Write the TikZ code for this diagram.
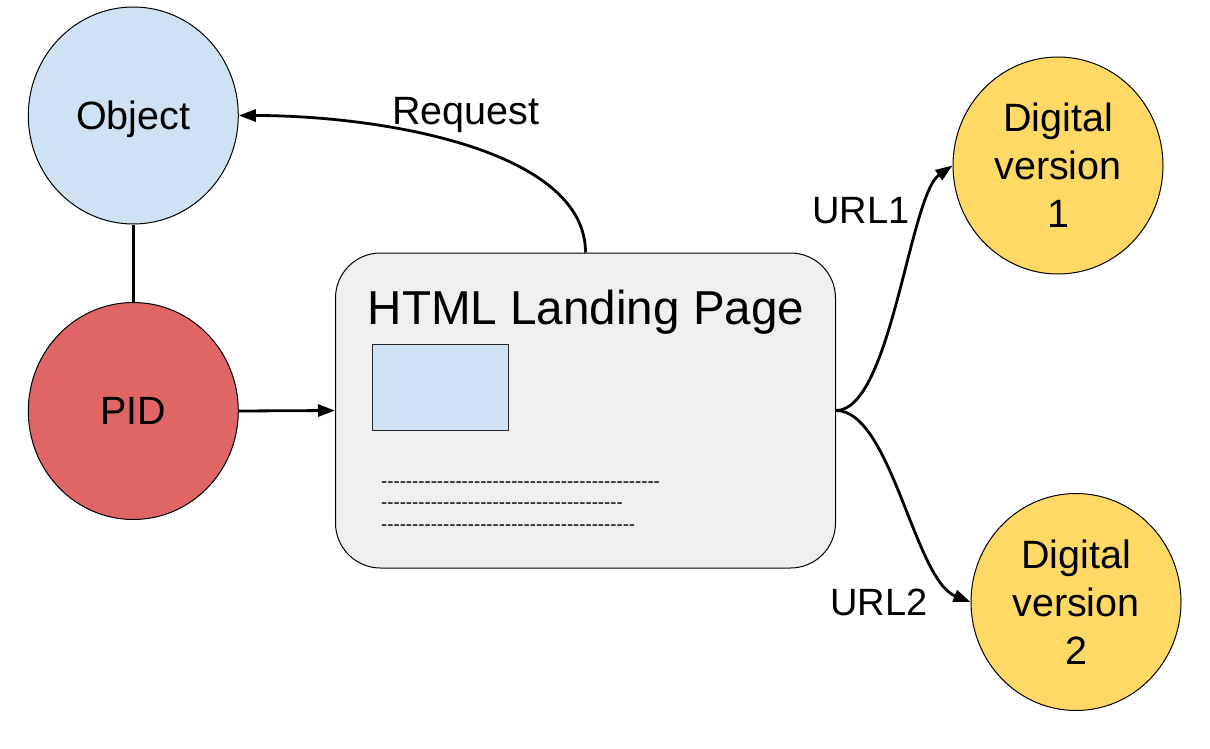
\documentclass[tikz,border=0pt]{standalone}
\usepackage{fontspec}
\setmainfont{Liberation Sans}
\newfontfamily\dashfont{Liberation Sans}
\usetikzlibrary{shapes.geometric,arrows.meta}
\definecolor{objblue}{HTML}{CFE2F3}
\definecolor{pidred}{HTML}{E06666}
\definecolor{digyellow}{HTML}{FFD966}
\definecolor{pagegray}{HTML}{EFEFEF}
\newcommand\mydashes[1]{\ifnum#1>0 -\kern0pt\expandafter\mydashes\expandafter{\the\numexpr#1-1\relax}\fi}
\begin{document}
\begin{tikzpicture}[x=1pt,y=-1pt,
  blob/.style={ellipse, draw=black, line width=1pt, minimum width=210pt, minimum height=217pt,
    inner sep=0pt, align=center, font=\fontsize{39.5}{48}\selectfont},
  conn/.style={line width=2.8pt, draw=black},
  arr/.style={conn, -{Triangle[length=17pt,width=12pt]}},
  lbl/.style={anchor=base, inner sep=0pt, font=\fontsize{39.5}{48}\selectfont},
  urllbl/.style={anchor=base, inner sep=0pt, font=\fontsize{38}{46}\selectfont},
  dashline/.style={anchor=base west, inner sep=0pt, font=\dashfont\fontsize{18.6}{21}\selectfont},
  pagebox/.style={draw=black, line width=1pt, fill=pagegray, rounded corners=45pt,
    minimum width=500pt, minimum height=315pt, inner sep=0pt},
  imgbox/.style={draw=black!85, line width=1.2pt, fill=objblue, minimum width=136.4pt,
    minimum height=86pt, inner sep=0pt}
]
\useasboundingbox (0,0) rectangle (1210,749);
\fill[white] (0,0) rectangle (1210,749);

% nodes
\node[blob, fill=objblue, text depth=0pt] (obj) at (133.3,115.5) {Object};
\node[blob, fill=pidred] (pid) at (133.3,411) {PID};
\node[pagebox] (page) at (585.5,410.5) {};
\node[anchor=base, inner sep=0pt, font=\fontsize{47.6}{52}\selectfont] (title) at (586,324) {HTML Landing Page};
\node[imgbox] (img) at (440.5,387.3) {};
\node[dashline] (d1line) at (381,487) {\mydashes{45}};
\node[dashline] (d2line) at (381,508) {\mydashes{39}};
\node[dashline] (d3line) at (381,530) {\mydashes{41}};
\node[blob, fill=digyellow] (dv1) at (1058,165.5) {Digital\\version\\1};
\node[blob, fill=digyellow] (dv2) at (1076,602) {Digital\\version\\2};

% connectors
\draw[conn] (obj.south) -- (pid.north);
\draw[arr] (pid.east) -- (page.west);
\draw[arr] (page.north) .. controls +(0,-103) and +(142,0) .. (obj.east);
\draw[arr] (page.east) .. controls +(55,0) and +(-43,30) .. (dv1.west);
\draw[arr] (page.east) .. controls +(55,0) and +(-56,-22) .. (dv2.west);

% labels
\node[lbl] (req) at (466,125) {Request};
\node[urllbl] (url1) at (861,223.3) {URL1};
\node[urllbl] (url2) at (879,615) {URL2};
\end{tikzpicture}
\end{document}
